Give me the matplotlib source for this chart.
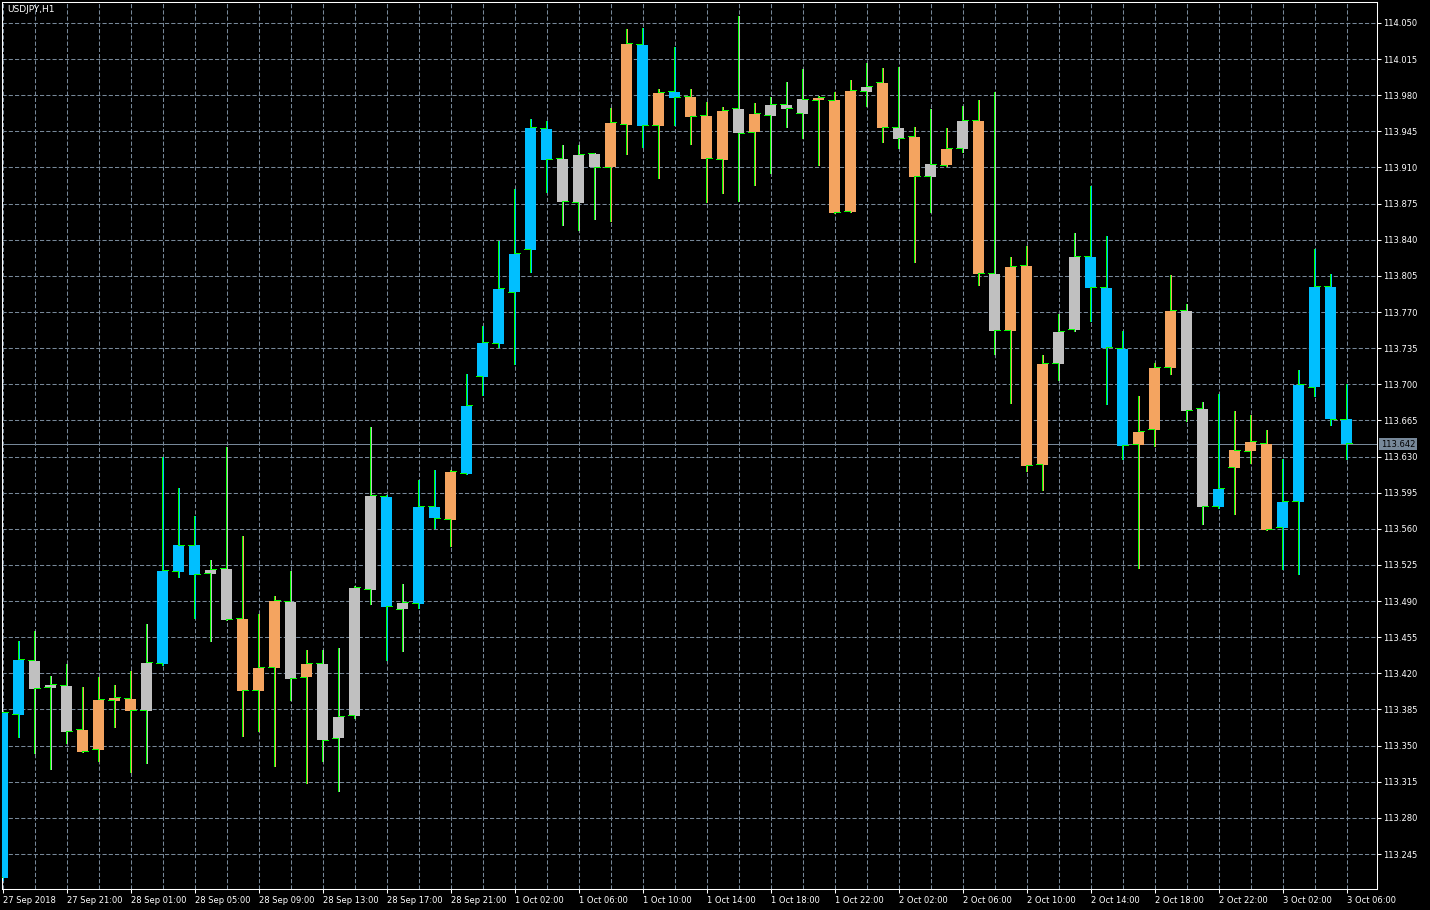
import matplotlib
matplotlib.use('Agg')
import matplotlib.pyplot as plt
import numpy as np

symbol = 'USDJPY,H1'
last_price = 113.642

# hourly bars, 27 Sep 2018 17:00 .. 3 Oct 2018 06:00
opens = [113.222, 113.380, 113.432, 113.406, 113.408, 113.365, 113.346, 113.393, 113.395, 113.384,
         113.429, 113.518, 113.544, 113.516, 113.521, 113.473, 113.403, 113.425, 113.489, 113.416,
         113.429, 113.357, 113.379, 113.501, 113.591, 113.482, 113.487, 113.581, 113.569, 113.613,
         113.707, 113.739, 113.789, 113.830, 113.947, 113.918, 113.876, 113.923, 113.910, 113.951,
         114.029, 113.950, 113.983, 113.978, 113.960, 113.917, 113.967, 113.944, 113.960, 113.971,
         113.962, 113.975, 113.975, 113.867, 113.983, 113.992, 113.948, 113.940, 113.901, 113.912,
         113.928, 113.955, 113.807, 113.752, 113.815, 113.622, 113.720, 113.753, 113.823, 113.793,
         113.734, 113.641, 113.656, 113.716, 113.771, 113.676, 113.581, 113.619, 113.635, 113.642,
         113.561, 113.586, 113.697, 113.794, 113.666]
highs = [113.382, 113.451, 113.461, 113.417, 113.429, 113.407, 113.416, 113.409, 113.422, 113.468,
         113.630, 113.600, 113.572, 113.530, 113.639, 113.553, 113.477, 113.495, 113.519, 113.443,
         113.443, 113.445, 113.505, 113.659, 113.593, 113.507, 113.607, 113.617, 113.617, 113.710,
         113.756, 113.839, 113.889, 113.957, 113.955, 113.932, 113.932, 113.924, 113.968, 114.044,
         114.045, 113.986, 114.027, 113.986, 113.973, 113.969, 114.057, 113.972, 113.978, 113.993,
         114.005, 113.979, 113.983, 113.995, 114.011, 114.006, 114.007, 113.949, 113.967, 113.948,
         113.970, 113.975, 113.983, 113.823, 113.834, 113.728, 113.768, 113.847, 113.892, 113.844,
         113.752, 113.689, 113.721, 113.806, 113.778, 113.683, 113.691, 113.674, 113.670, 113.656,
         113.628, 113.714, 113.831, 113.807, 113.700]
lows = [113.220, 113.358, 113.343, 113.327, 113.353, 113.344, 113.335, 113.368, 113.324, 113.333,
        113.428, 113.513, 113.474, 113.451, 113.472, 113.359, 113.364, 113.330, 113.394, 113.314,
        113.335, 113.306, 113.377, 113.487, 113.433, 113.442, 113.483, 113.561, 113.543, 113.613,
        113.690, 113.736, 113.720, 113.809, 113.886, 113.854, 113.849, 113.860, 113.858, 113.923,
        113.930, 113.900, 113.951, 113.933, 113.877, 113.885, 113.878, 113.893, 113.905, 113.949,
        113.939, 113.912, 113.866, 113.867, 113.970, 113.935, 113.929, 113.818, 113.867, 113.911,
        113.925, 113.796, 113.729, 113.682, 113.616, 113.598, 113.704, 113.752, 113.761, 113.681,
        113.628, 113.522, 113.640, 113.710, 113.664, 113.565, 113.580, 113.574, 113.624, 113.559,
        113.521, 113.516, 113.689, 113.661, 113.628]
closes = [113.382, 113.433, 113.405, 113.409, 113.363, 113.344, 113.394, 113.396, 113.384, 113.430,
          113.519, 113.544, 113.515, 113.520, 113.472, 113.403, 113.425, 113.490, 113.415, 113.429,
          113.355, 113.378, 113.503, 113.592, 113.484, 113.488, 113.581, 113.570, 113.615, 113.679,
          113.740, 113.792, 113.826, 113.948, 113.917, 113.877, 113.922, 113.910, 113.953, 114.030,
          113.950, 113.982, 113.977, 113.959, 113.918, 113.965, 113.943, 113.962, 113.971, 113.967,
          113.976, 113.977, 113.866, 113.984, 113.988, 113.948, 113.938, 113.901, 113.913, 113.928,
          113.955, 113.807, 113.752, 113.814, 113.621, 113.720, 113.751, 113.823, 113.793, 113.735,
          113.640, 113.654, 113.716, 113.771, 113.674, 113.581, 113.599, 113.636, 113.644, 113.559,
          113.586, 113.699, 113.794, 113.666, 113.642]
# candle colour codes: b = blue, g = grey, o = orange
colour_codes = list("bbgggoooog" "bbbggooogo" "ggggbgbbob" "bbbbbgggoo" "bobooogogg"
                    "gooogogogo" "gogoooggbb" "boooggbooo" "bbbbb")

time_labels = ['27 Sep 2018', '27 Sep 21:00', '28 Sep 01:00', '28 Sep 05:00', '28 Sep 09:00',
               '28 Sep 13:00', '28 Sep 17:00', '28 Sep 21:00', '1 Oct 02:00', '1 Oct 06:00',
               '1 Oct 10:00', '1 Oct 14:00', '1 Oct 18:00', '1 Oct 22:00', '2 Oct 02:00',
               '2 Oct 06:00', '2 Oct 10:00', '2 Oct 14:00', '2 Oct 18:00', '2 Oct 22:00',
               '3 Oct 02:00', '3 Oct 06:00']
price_ticks = [114.050, 114.015, 113.980, 113.945, 113.910, 113.875, 113.840, 113.805,
               113.770, 113.735, 113.700, 113.665, 113.630, 113.595, 113.560, 113.525,
               113.490, 113.455, 113.420, 113.385, 113.350, 113.315, 113.280, 113.245]

palette = {'b': '#00bfff', 'g': '#c0c0c0', 'o': '#f4a460'}
bar_green = '#00ff00'
grid_col = '#778899'

o = np.array(opens)
h = np.array(highs)
l = np.array(lows)
c = np.array(closes)
x = np.arange(len(o))
cols = [palette[k] for k in colour_codes]
px = 1 / 16.0  # one screen pixel in bar units

fig = plt.figure(figsize=(14.3, 9.1), dpi=100, facecolor='black')
ax = fig.add_axes([2 / 1430, 1 - 889 / 910, 1375 / 1430, 887 / 910])
ax.set_facecolor('black')

# green OHLC bars underneath, candles on top (crisp 1px lines like the terminal)
ax.vlines(x - px, l, h, color=bar_green, lw=0.72, zorder=2, antialiased=False)
ax.vlines(x, l, h, color=cols, lw=0.72, zorder=3, antialiased=False)
body_lo = np.minimum(o, c)
body_h = np.maximum(np.abs(c - o), 0.0012)
ax.bar(x, body_h, bottom=body_lo, width=0.69, color=cols, lw=0, zorder=4, antialiased=False)
ax.hlines(o + 0.0008, x - 0.42, x - px, color=bar_green, lw=0.72, zorder=5, antialiased=False)
ax.hlines(c + 0.0008, x - px, x + 0.36, color=bar_green, lw=0.72, zorder=5, antialiased=False)

# current price
ax.axhline(last_price, color=grid_col, lw=0.72, zorder=1, antialiased=False)
ax.annotate('%.3f' % last_price, xy=(1, last_price), xycoords=('axes fraction', 'data'),
            xytext=(4, 0), textcoords='offset pixels', ha='left', va='center',
            fontsize=6, color='black', annotation_clip=False,
            bbox=dict(boxstyle='square,pad=0.2', fc=grid_col, ec='none'))

ax.set_xlim(-0.04, 85.9)
ax.set_ylim(113.2111, 114.0703)

ax.yaxis.tick_right()
ax.set_yticks(price_ticks)
ax.set_yticklabels(['%.3f' % p for p in price_ticks])
ax.set_xticks(x[::4])
ax.set_xticklabels(time_labels)
ax.set_xticks(x[2::4], minor=True)
for lab in ax.get_xticklabels():
    lab.set_ha('left')

ax.tick_params(axis='y', colors='white', labelsize=6, length=3, width=0.75, pad=1.5)
ax.tick_params(axis='x', colors='white', labelsize=6, length=3, width=0.75, pad=2)
ax.tick_params(axis='x', which='minor', length=0)

ax.set_axisbelow(True)
ax.grid(True, which='both', axis='x', color=grid_col, lw=0.75, linestyle=(0, (4, 2)))
ax.grid(True, which='major', axis='y', color=grid_col, lw=0.75, linestyle=(0, (4, 2)))

for sp in ax.spines.values():
    sp.set_color('white')
    sp.set_linewidth(0.75)

fig.text(7 / 1430, 1 - 9.5 / 910, symbol, color='white', fontsize=6.5, ha='left', va='center')

fig.savefig('out.png', dpi=100, facecolor='black')
